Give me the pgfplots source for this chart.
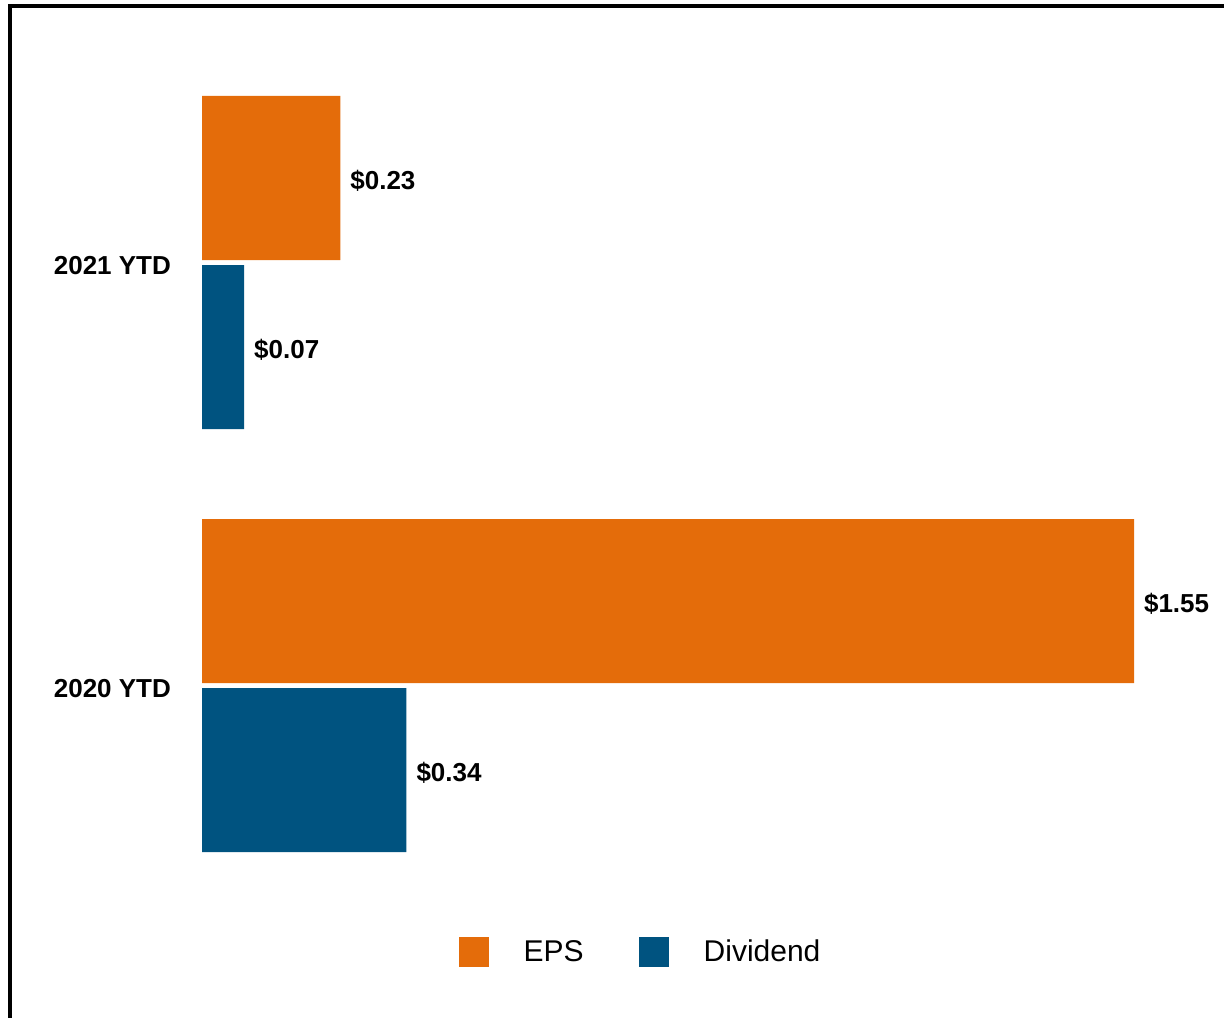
\documentclass[border=0pt]{standalone}
\usepackage{pgfplots}
\pgfplotsset{compat=1.18}
\usepackage{fontspec}
\setmainfont{Liberation Sans}
\definecolor{epsor}{RGB}{228,108,10}
\definecolor{divbl}{RGB}{0,83,128}
\begin{document}
\begin{tikzpicture}
\useasboundingbox (0pt,0pt) rectangle (612pt,-508.5pt);
\draw[line width=2pt] (5pt,-515pt) -- (5pt,-2.75pt) -- (615pt,-2.75pt);
\begin{axis}[
  at={(101pt,-426pt)}, anchor=south west,
  scale only axis,
  width=466pt, height=378pt,
  xmin=0, xmax=1.55,
  ymin=-0.3936, ymax=1.3936,
  axis line style={draw=none},
  hide x axis,
  ytick={0,1},
  yticklabels={2020 YTD,2021 YTD},
  yticklabel style={font=\fontsize{13}{15}\selectfont\bfseries, xshift=-12pt, yshift=-1.5pt},
  major tick length=0pt,
  xbar, bar width=82pt,
  clip=false,
  nodes near coords={\$\pgfmathprintnumber[fixed,fixed zerofill,precision=2,assume math mode=true]{\pgfplotspointmeta}},
  every node near coord/.append style={font=\fontsize{13}{15}\selectfont\bfseries, anchor=west, xshift=1.5pt, yshift=-1.5pt, black},
  legend columns=2,
  legend style={draw=none, at={(0.4716,-0.1323)}, anchor=center, font=\fontsize{15}{17}\selectfont,
    /tikz/every even column/.append style={column sep=25.5pt}},
  legend image code/.code={\fill[#1] (0pt,-7.5pt) rectangle (15pt,7.5pt);},
]
\addplot[fill=epsor, draw=none, bar shift=42.25pt] coordinates {(1.55,0) (0.23,1)};
\addplot[fill=divbl, draw=none, bar shift=-42.25pt] coordinates {(0.34,0) (0.07,1)};
\legend{\hspace{15.5pt}EPS,\hspace{15.5pt}Dividend}
\end{axis}
\end{tikzpicture}
\end{document}
